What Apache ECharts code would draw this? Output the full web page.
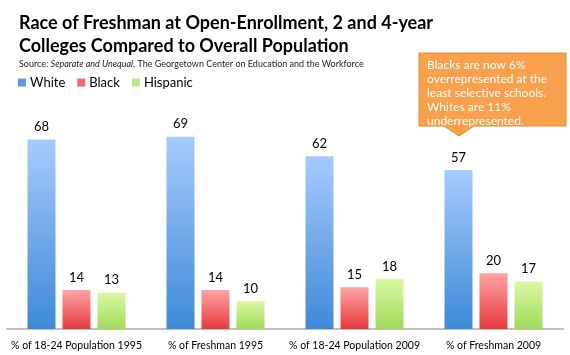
<!DOCTYPE html>
<html><head><meta charset="utf-8">
<script src="https://cdn.jsdelivr.net/npm/echarts@6/dist/echarts.min.js"></script>
<style>html,body{margin:0;padding:0;background:#fff}#c{width:570px;height:355px}</style>
</head><body><div id="c"></div>
<script>
const categories = ['% of 18-24 Population 1995', '% of Freshman 1995', '% of 18-24 Population 2009', '% of Freshman 2009'];
const white = [68, 69, 62, 57];
const black = [14, 14, 15, 20];
const hispanic = [13, 10, 18, 17];
const seriesNames = ['White', 'Black', 'Hispanic'];
const calloutLines = ['Blacks are now 6%', 'overrepresented at the', 'least selective schools.', 'Whites are 11%', 'underrepresented.'];

const FONT = 'Lato';
function grad(top, bottom) {
  return new echarts.graphic.LinearGradient(0, 0, 0, 1, [{offset: 0, color: top}, {offset: 1, color: bottom}]);
}
const colors = [grad('#a6cbfd', '#3e89d7'), grad('#ffa3a3', '#e63a3c'), grad('#dbf8a4', '#a0da58')];
const legendColors = ['#5a9be3', '#f06a6c', '#b9e67e'];

const chart = echarts.init(document.getElementById('c'));
function mk(name, data, i) {
  return {
    name, type: 'bar', data, barWidth: 28, barGap: '25%',
    itemStyle: {color: colors[i]},
    label: {show: true, position: 'top', distance: 6, color: '#000', fontFamily: FONT, fontSize: 13},
    emphasis: {disabled: true}
  };
}
chart.setOption({
  animation: false,
  color: legendColors,
  title: {
    left: 14, top: 7, itemGap: 2,
    text: 'Race of Freshman at Open-Enrollment, 2 and 4-year\nColleges Compared to Overall Population',
    textStyle: {fontFamily: FONT, fontWeight: 'bold', fontSize: 18, color: '#000', lineHeight: 23},
    subtext: '{n|Source: }{i|Separate and Unequal}{n|, The Georgetown Center on Education and the Workforce}',
    subtextStyle: {rich: {
      n: {fontFamily: FONT, fontSize: 9, color: '#222'},
      i: {fontFamily: FONT, fontSize: 9, color: '#222', fontStyle: 'italic'}
    }}
  },
  legend: {
    left: 13, top: 71, itemWidth: 8, itemHeight: 8, itemGap: 12,
    icon: 'rect',
    data: seriesNames.map((n, i) => ({name: n, itemStyle: {color: legendColors[i]}})),
    textStyle: {fontFamily: FONT, fontSize: 13, color: '#000', padding: [0, 0, 0, -1]}
  },
  grid: {left: 7, right: 7, top: 106, bottom: 26, containLabel: false},
  xAxis: {
    type: 'category', data: categories,
    axisLine: {lineStyle: {color: '#c0c0c0', width: 2}},
    axisTick: {show: false},
    axisLabel: {fontFamily: FONT, fontSize: 10.5, color: '#000', margin: 11, interval: 0}
  },
  yAxis: {type: 'value', min: 0, max: 80, show: false, splitLine: {show: false}},
  series: [mk('White', white, 0), mk('Black', black, 1), mk('Hispanic', hispanic, 2)],
  graphic: [
    {
      type: 'polygon', z: 100,
      shape: {points: [[419, 53], [566, 53], [566, 126], [474, 126], [459, 136], [444, 126], [419, 126]]},
      style: {fill: '#f9a04c', stroke: '#e3893a', lineWidth: 1}
    },
    {
      type: 'text', z: 101, left: 427, top: 58,
      style: {text: calloutLines.join('\n'), fill: '#fff', fontFamily: FONT, fontSize: 12, lineHeight: 14}
    }
  ]
});
</script></body></html>
